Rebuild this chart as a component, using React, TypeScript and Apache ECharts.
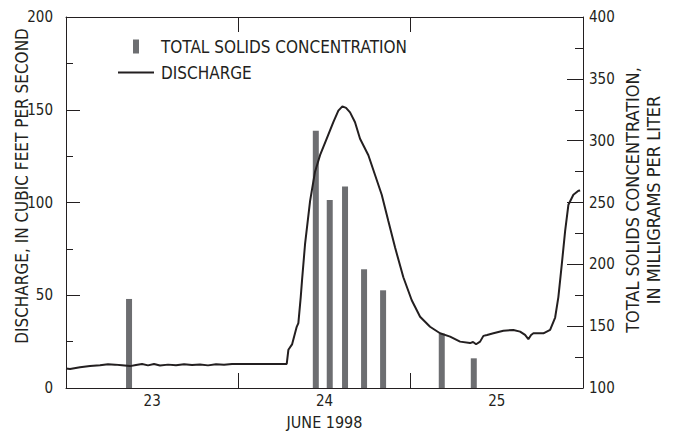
import React, { useEffect, useRef } from 'react';
import * as echarts from 'echarts';

// Hours since 00:00 June 23, 1998 and discharge (cubic feet per second)
const dischargeHours = [
  0, 0.56, 1.95, 3.34, 4.74, 5.85, 6.83, 7.8, 8.91, 9.75, 10.59, 11.42, 12.26, 13.09,
  14.21, 15.32, 16.44, 17.55, 18.66, 19.78, 20.89, 22.01, 23.12, 24.24, 30.74,
  30.97, 31.48, 32.13, 32.36, 32.69, 32.87, 33.29, 33.99, 34.68, 35.38, 36.31, 37.23,
  37.93, 38.49, 39.0, 39.56, 40.25, 40.95, 42.11, 43.04, 43.97, 44.89, 45.83, 46.98,
  48.15, 49.31, 50.7, 52.09, 53.49, 54.88, 56.27, 56.69, 57.11, 57.67, 58.13, 58.64,
  59.52, 60.91, 62.3, 63.24, 63.93, 64.39, 64.77, 65.09, 66.49, 67.42, 68.12, 68.57,
  69.05, 69.51, 69.97, 70.66, 71.36, 71.6
];
const dischargeCfs = [
  10.5, 10.2, 11.2, 11.8, 12.3, 12.8, 12.6, 12.3, 11.8, 12.4, 12.9, 12.2, 12.9, 12.1,
  12.6, 12.3, 12.8, 12.4, 12.7, 12.2, 12.8, 12.5, 13, 13, 13,
  20.6, 23.5, 33, 35, 49, 58, 77.5, 100.7, 116.6, 125.5, 134.4, 143.3,
  149.5, 151.8, 151, 148.6, 143.3, 134.4, 125.5, 114.8, 104.2, 90, 75.7, 59.7,
  47.3, 38.4, 33, 29.5, 27.7, 25, 24.2, 24.8, 23.6, 25, 28.1, 28.6,
  29.5, 30.9, 31.3, 30.4, 28.6, 26.3, 28.6, 29.5, 29.5, 31.3, 38, 49,
  66.8, 84.6, 98.8, 104.2, 106.3, 106.5
];

// Sample times (hours since 00:00 June 23) and total solids (mg/L)
const sampleHours = [8.78, 34.79, 36.73, 38.86, 41.51, 44.16, 52.33, 56.79];
const solidsMgL = [172, 308, 252, 263, 196, 179, 144, 124];

const dayLabels = ['23', '24', '25'];
const xTitle = 'JUNE 1998';
const leftTitle = 'DISCHARGE, IN CUBIC FEET PER SECOND';
const rightTitle = 'TOTAL SOLIDS CONCENTRATION,\nIN MILLIGRAMS PER LITER';
const barName = 'TOTAL SOLIDS CONCENTRATION';
const lineName = 'DISCHARGE';

const FONT = "'DejaVu Sans Condensed', 'Liberation Sans Narrow', sans-serif";
const INK = '#231f20';
const BAR = '#6d6e71';

export default function App() {
  const ref = useRef<HTMLDivElement>(null);

  useEffect(() => {
    document.body.style.margin = '0';
    if (!ref.current) return;
    const chart = echarts.init(ref.current, undefined, { renderer: 'svg' });
    const lineAxis = { show: true, onZero: false, lineStyle: { color: INK, width: 1 } };
    const labelStyle = { fontFamily: FONT, fontSize: 15, color: INK };

    chart.setOption({
      animation: false,
      backgroundColor: '#ffffff',
      grid: { left: 66, top: 17, width: 517, height: 375, show: false },
      legend: {
        left: 113,
        top: 33,
        orient: 'vertical',
        itemWidth: 36,
        itemHeight: 14,
        itemGap: 9,
        selectedMode: false,
        data: [
          { name: barName, icon: 'path://M0,0H6V14H0Z', itemStyle: { color: BAR } },
          { name: lineName, icon: 'path://M0,0H36V2H0Z', itemStyle: { color: INK } }
        ],
        textStyle: { fontFamily: FONT, fontSize: 17, color: INK, padding: [0, 0, 0, 2] }
      },
      xAxis: [
        {
          type: 'value', min: 0, max: 72, interval: 24, position: 'bottom',
          axisLine: lineAxis,
          axisTick: { show: true, inside: true, length: 15, lineStyle: { color: INK } },
          axisLabel: { show: false },
          splitLine: { show: false }
        },
        {
          type: 'value', min: 0, max: 72, interval: 12, position: 'bottom',
          axisLine: { show: false, onZero: false },
          axisTick: { show: false },
          axisLabel: {
            ...labelStyle,
            margin: 5,
            formatter: (v: number) => (v % 24 === 12 ? dayLabels[Math.floor(v / 24)] : '')
          },
          splitLine: { show: false },
          name: xTitle,
          nameLocation: 'middle',
          nameGap: 26,
          nameTextStyle: { fontFamily: FONT, fontSize: 16, color: INK }
        },
        {
          type: 'value', min: 0, max: 72, interval: 24, position: 'top',
          axisLine: lineAxis,
          axisTick: { show: true, inside: true, length: 15, lineStyle: { color: INK } },
          axisLabel: { show: false },
          splitLine: { show: false }
        }
      ],
      yAxis: [
        {
          type: 'value', min: 0, max: 200, interval: 50, position: 'left',
          axisLine: lineAxis,
          axisTick: { show: true, inside: true, length: 14, lineStyle: { color: INK } },
          minorTick: { show: true, splitNumber: 2, length: 7, lineStyle: { color: INK } },
          axisLabel: { ...labelStyle, margin: 13 },
          splitLine: { show: false },
          minorSplitLine: { show: false }
        },
        {
          type: 'value', min: 100, max: 400, interval: 50, position: 'right',
          axisLine: lineAxis,
          axisTick: { show: true, inside: true, length: 16, lineStyle: { color: INK } },
          minorTick: { show: true, splitNumber: 2, length: 8, lineStyle: { color: INK } },
          axisLabel: { ...labelStyle, margin: 6 },
          splitLine: { show: false },
          minorSplitLine: { show: false }
        }
      ],
      graphic: [
        {
          type: 'text', x: 22, y: 186, rotation: Math.PI / 2,
          style: { text: leftTitle, fontFamily: FONT, fontSize: 17, fill: INK, align: 'center', verticalAlign: 'middle' }
        },
        {
          type: 'text', x: 643, y: 200, rotation: Math.PI / 2,
          style: { text: rightTitle, fontFamily: FONT, fontSize: 18, lineHeight: 21, fill: INK, align: 'center', verticalAlign: 'middle' }
        }
      ],
      series: [
        {
          type: 'bar',
          name: barName,
          xAxisIndex: 0,
          yAxisIndex: 1,
          barWidth: 6,
          itemStyle: { color: BAR },
          data: sampleHours.map((h, i) => [h, solidsMgL[i]])
        },
        {
          type: 'line',
          name: lineName,
          xAxisIndex: 0,
          yAxisIndex: 0,
          symbol: 'none',
          itemStyle: { color: INK },
          lineStyle: { color: INK, width: 2 },
          data: dischargeHours.map((h, i) => [h, dischargeCfs[i]])
        }
      ]
    });

    return () => chart.dispose();
  }, []);

  return <div ref={ref} style={{ width: 673, height: 435 }} />;
}
